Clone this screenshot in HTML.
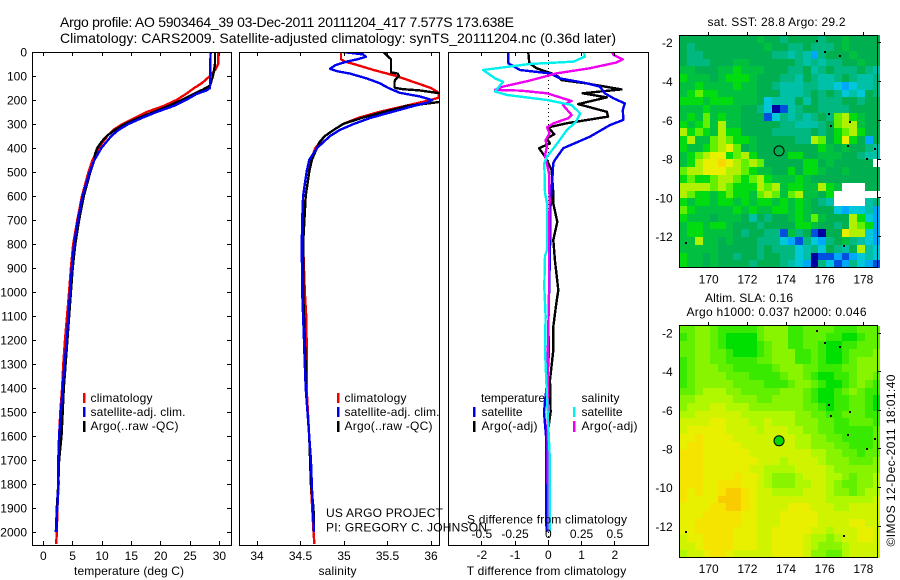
<!DOCTYPE html>
<html lang="en">
<head>
<meta charset="utf-8">
<title>Argo profile</title>
<style>
html,body{margin:0;padding:0;background:#fff;}
svg{display:block;font-family:"Liberation Sans",sans-serif;font-size:12px;fill:#000;}
text{fill:#000;}
.box{fill:none;stroke:#000;stroke-width:1;shape-rendering:crispEdges;}
.tick{stroke:#000;stroke-width:1;shape-rendering:crispEdges;}
.prof{fill:none;stroke-width:2.4;shape-rendering:crispEdges;stroke-linejoin:round;}
.title{font-size:14px;}
</style>
</head>
<body>
<svg id="chart" xmlns="http://www.w3.org/2000/svg" width="900" height="580" viewBox="0 0 900 580">
  <defs>
    <clipPath id="c1"><rect x="32" y="52" width="199.5" height="493.5"/></clipPath>
    <clipPath id="c2"><rect x="239" y="52" width="200.5" height="493.5"/></clipPath>
    <clipPath id="c3"><rect x="448" y="52" width="200.5" height="493.5"/></clipPath>
  </defs>
  <text class="title" x="60" y="27" textLength="454">Argo profile: AO 5903464_39 03-Dec-2011 20111204_417 7.577S 173.638E</text>
  <text class="title" x="60" y="43" textLength="556">Climatology: CARS2009. Satellite-adjusted climatology: synTS_20111204.nc (0.36d later)</text>

  <g id="heat1"></g>
  <g id="heat2"></g>
  <g id="marks"></g>
  <g id="axes"></g>

  <rect class="box" x="32.5" y="52.5" width="199" height="493"/>
  <rect class="box" x="239.5" y="52.5" width="200" height="493"/>
  <rect class="box" x="448.5" y="52.5" width="200" height="493"/>
  <rect class="box" x="679.5" y="35.5" width="198" height="232"/>
  <rect class="box" x="679.5" y="325.5" width="198" height="232"/>

  <text x="74" y="575" textLength="110">temperature (deg C)</text>
  <text x="318.5" y="575" textLength="38">salinity</text>
  <text x="466.7" y="575" textLength="159.5">T difference from climatology</text>
  <text x="467" y="523.5" textLength="160">S difference from climatology</text>

  <g>
    <rect x="83" y="393" width="2.5" height="10" fill="#f00000"/>
    <rect x="83" y="407" width="2.5" height="10" fill="#0000f0"/>
    <rect x="83" y="421" width="2.5" height="11" fill="#000"/>
    <text x="90.5" y="402" textLength="62">climatology</text>
    <text x="90.5" y="416" textLength="95">satellite-adj. clim.</text>
    <text x="90.5" y="430" textLength="88">Argo(..raw -QC)</text>
  </g>
  <g>
    <rect x="337" y="393" width="2.5" height="10" fill="#f00000"/>
    <rect x="337" y="407" width="2.5" height="10" fill="#0000f0"/>
    <rect x="337" y="421" width="2.5" height="11" fill="#000"/>
    <text x="344.5" y="402" textLength="62">climatology</text>
    <text x="344.5" y="416" textLength="95">satellite-adj. clim.</text>
    <text x="344.5" y="430" textLength="88">Argo(..raw -QC)</text>
  </g>
  <g>
    <text x="481" y="402" textLength="64">temperature</text>
    <rect x="473" y="407" width="2.5" height="10" fill="#0000f0"/>
    <rect x="473" y="421" width="2.5" height="11" fill="#000"/>
    <text x="481.5" y="416" textLength="41">satellite</text>
    <text x="481.5" y="430" textLength="56">Argo(-adj)</text>
    <text x="581.5" y="402" textLength="38">salinity</text>
    <rect x="573" y="407" width="2.5" height="10" fill="#00f0f0"/>
    <rect x="573" y="421" width="2.5" height="11" fill="#f000f0"/>
    <text x="581.5" y="416" textLength="41">satellite</text>
    <text x="581.5" y="430" textLength="56">Argo(-adj)</text>
  </g>

  <text x="326" y="517" textLength="117">US ARGO PROJECT</text>
  <text x="326" y="531.5" textLength="161">PI: GREGORY C. JOHNSON</text>

  <text x="707.5" y="26" textLength="138">sat. SST: 28.8 Argo: 29.2</text>
  <text x="705" y="302" textLength="88">Altim. SLA: 0.16</text>
  <text x="686.5" y="316" textLength="180">Argo h1000: 0.037 h2000: 0.046</text>
  <text x="0" y="0" transform="translate(895 546.5) rotate(-90)" textLength="172">©IMOS 12-Dec-2011 18:01:40</text>
</svg>
<script>
// ---- profile data (depth in dbar; temperature in deg C; salinity in psu) ----
const tempClimDepth = [0,50,70,100,130,150,175,200,225,250,275,300,325,350,400,450,500,600,700,800,900,1000,1200,1300,1400,1500,1600,1700,1800,1900,2000,2050];
const tempClim      = [29.8,29.8,29.4,28.4,27,25.7,24.3,22.7,20.5,17.6,15.6,13.5,11.9,10.9,9.4,8.4,7.7,6.6,5.8,5.1,4.7,4.4,3.7,3.4,3.2,2.9,2.7,2.55,2.6,2.4,2.3,2.2];
const tempSatDepth  = [0,100,150,160,175,200,225,250,275,300,325,350,400,450,500,600,700,800,900,1000,1200,1300,1400,1500,1600,1700,1800,1900,1950,2000];
const tempSat       = [28.5,28.4,28.4,27.8,26.1,24.3,22.2,19.3,16.8,14.5,12.8,11.6,9.9,8.7,7.9,6.7,5.9,5.25,4.85,4.55,4,3.6,3.3,3,2.7,2.55,2.55,2.4,2.2,2.15];
const tempArgoDepth = [0,50,75,100,140,155,175,200,225,250,275,300,325,350,375,400,425,450,500,600,700,800,900,1000,1200,1300,1400,1500,1600,1700,1800,1900,2000];
const tempArgo      = [29.25,29.25,29.1,28.9,28.4,27.3,25.6,23.6,21.3,18.8,16.2,13.9,12.2,10.8,9.9,9.2,8.8,8.7,8,6.9,6.1,5.45,5,4.7,4.1,3.8,3.5,3.3,3.1,2.7,2.55,2.3,2.25];

const salClimDepth = [0,30,40,50,75,100,125,150,170,190,200,225,250,275,300,325,350,400,450,500,600,700,800,1000,1100,1200,1300,1400,1500,1600,1700,1800,1900,2000,2050];
const salClim      = [34.965,34.965,35.01,35.11,35.34,35.6,35.8,36,36.09,36.09,36,35.7,35.4,35.16,34.99,34.88,34.78,34.67,34.62,34.6,34.56,34.54,34.53,34.55,34.565,34.57,34.57,34.57,34.585,34.6,34.62,34.62,34.635,34.65,34.66];
const salSatDepth  = [0,10,20,30,40,55,70,80,90,110,130,150,170,185,200,212,225,250,275,300,325,350,400,450,500,600,700,800,1000,1100,1200,1300,1400,1500,1600,1700,1800,1900,2000];
const salSat       = [34.99,35.22,35.25,35.16,35.03,34.9,34.84,34.92,35.07,35.26,35.41,35.51,35.64,35.87,36.01,35.95,35.8,35.55,35.3,35.11,34.95,34.84,34.69,34.6,34.57,34.53,34.52,34.515,34.52,34.53,34.54,34.55,34.56,34.58,34.6,34.62,34.63,34.64,34.655];
const salArgoDepth = [0,20,30,50,85,90,100,115,125,145,150,155,160,170,175,190,200,208,215,225,250,275,300,325,350,375,400,450,500,600,800,1000,1100,1200,1300,1400,1500,1600,1700,1800,1900,2000];
const salArgo      = [35.45,35.51,35.54,35.54,35.54,35.62,35.63,35.59,35.58,35.58,35.59,35.68,35.87,36.06,36.18,36.4,36.4,36.1,35.95,35.72,35.45,35.2,34.99,34.88,34.78,34.72,34.69,34.63,34.6,34.56,34.53,34.53,34.54,34.55,34.56,34.56,34.58,34.6,34.61,34.62,34.65,34.655];

const dTSatDepth  = [0,30,47,75,89,110,130,144,172,193,214,242,283,304,353,401,450,463,533,627,825,960,1150,1242,1367,1500,1600,1700,1800,1900,2000];
const dTSat       = [-1.2,-1.2,-1.2,-0.85,0.05,0.35,1.15,1.55,1.7,1.96,2.3,2.24,2.26,1.86,1.25,0.45,0.2,0.15,0.12,0.07,0.05,0.03,0,0.02,-0.03,-0.13,-0.07,-0.07,-0.07,-0.07,-0.05];
const dTArgoDepth = [0,47,68,89,103,117,131,156,172,189,217,249,269,297,314,343,360,381,401,436,492,589,631,708,783,867,992,1060,1144,1242,1367,1500,1600,1700,1800,1900,2000];
const dTArgo      = [-0.6,-0.57,-0.35,0.1,0.3,0.4,1.15,2.2,1.03,1.76,0.9,1.76,1.8,0.55,0,0.18,-0.05,0.05,-0.28,-0.1,0.1,0.15,0.15,0.27,0.15,0.2,0.3,0.23,0.15,0.15,0.05,0.07,-0.03,-0.05,-0.05,-0.05,-0.03];
const dSSatDepth  = [0,6,19,40,50,75,110,124,165,179,200,221,256,290,325,394,436,463,588,629,825,850,979,1100,1242,1367,1500,1700,1900,2000];
const dSSat       = [0.27,0.27,0.275,0.19,-0.14,-0.49,-0.4,-0.34,-0.4,-0.31,-0.01,0.175,0.24,0.21,0.14,0.05,-0.01,-0.03,-0.025,-0.01,-0.01,-0.025,-0.03,-0.02,-0.025,-0.015,-0.005,0.012,0.01,0.012];
const dSArgoDepth = [0,12,31,44,68,89,119,144,158,161,172,204,221,262,276,297,314,339,367,394,429,506,617,800,1000,1300,1600,2000];
const dSArgo      = [0.48,0.49,0.56,0.51,0.31,0.06,-0.14,-0.34,-0.4,-0.21,-0.01,0.175,0.11,0.175,0.15,0.04,-0.01,0.01,-0.02,-0.01,-0.025,0.005,0.01,0.005,0.005,-0.005,-0.005,0];

// ---- tick labels ----
const depthTicks = [0,100,200,300,400,500,600,700,800,900,1000,1100,1200,1300,1400,1500,1600,1700,1800,1900,2000];
const tempTicks  = [0,5,10,15,20,25,30];
const salTicks   = [34,34.5,35,35.5,36];
const dTTicks    = [-2,-1,0,1,2];
const dSTicks    = [-0.5,-0.25,0,0.25,0.5];
const lonTicks   = [170,172,174,176,178];
const latTicks   = [-2,-4,-6,-8,-10,-12];

// ---- maps: one character per 0.4 degree cell, north row first ----
const sstLegend = {g:'#00b050',m:'#00c040',n:'#00dc10',l:'#60f000',y:'#b0f000',Y:'#e8f000',O:'#f8d800',t:'#00b880',T:'#00c0a8',c:'#00c8d8',b:'#00a8f8',B:'#0050e0',D:'#0000a0',W:'#ffffff'};
const sstRows = [
"ggggggggggmggtggggtggmgggg",
"gtgggggggggmggttgtttgmgggg",
"gttgggggggggttTtTbtgggmggg",
"gtttgggmmggggggtTtTttggmgg",
"mmgggmmnmmmgggttgTtgtttgtT",
"nmmmgmnnnmgggttTgtTTtgtTTt",
"mmnmmmmnmmggtTTTttTTcbcTTt",
"mnlnnmmmmmgggTTTtgtgtcTcgt",
"nnnmnnnmmmgcTTTgTgtttggtgg",
"mmmnmmmmggtcDBTtggttttgggg",
"mnmlmnmmgggBctTtTtgtlynmgg",
"nmnlmymmgggggttTTTtglyymgg",
"ynlnmynnggggtttttgtgnlyngg",
"nymmlylnnmgggggttylgnYngbg",
"nmmnlyYlgmggggggggnmgmggtT",
"mnlyYYnlynggggnnggmmmggtTT",
"mnyYYOYylylgggggnngmgggggW",
"lyyYYYyylnmmggngnnmggmgggg",
"nlnnlyylnlynmmmnmggggggggg",
"yyyylylnnnylymnnmmynmWWWgg",
"ylnnmnlnnmlylmlymmgnWWWWWW",
"nmnnmnnmnmnnmnmnmgtTWWWWTt",
"lnmmmmmnmnmmnnmnmgggcbccTb",
"nmmmgmmmgTgtggmnmlmgggyncb",
"mnnmnnmgggtggggnnmggtgylnb",
"mnnmmmmgtggttBmtgBDggYyycb",
"mmymmgmgggtttcbBtcbtgmtTcb",
"mmmmmgggggtgtttcTtcgtTgyTc",
"nmmgmggtggtggttcTDBBbBbcTc",
"nmmgmggggtgggtTcbDtcBbtcbB"
];
const slaLegend = {'0':'#00e000','1':'#38ea00','2':'#60f000','3':'#88f400','4':'#b0f800','5':'#d0f400','6':'#e8f000','7':'#f4e400','8':'#f8cc00'};
const slaRows = [
"22332111112333112222111222",
"12332100002333112221100122",
"22332100001233112210011222",
"22332210001233311210012223",
"12332211112233311210012333",
"12333221111123332211122333",
"12333322211112332100112332",
"12333332222111233210012321",
"22344433222223332100123211",
"33444443332233332100112210",
"34445544433333332210112210",
"44555555444444433221122211",
"55556655544544433322112221",
"56666655554555443322111112",
"66766665555555544332211112",
"67766666555555544333221112",
"77766666655555555443322122",
"77766666665554555543332223",
"77766666655444455554333333",
"77766667665433345554432334",
"77766777665433344554322334",
"76766788765544445554332344",
"76666888765555555554444445",
"66667788765555666555445555",
"66677777665556666655555555",
"66777777665556666655556655",
"66777776665566666554555665",
"56677776665566665443455665",
"55677776665566665433345555",
"45567765555566665332245555"
];
const isletLon = [175.6,176,176.8,176.2,177.3,176.35,177.2,178.6,178.2,168.8,177];
const isletLat = [-1.9,-2.5,-2.7,-5.7,-6.1,-6.3,-7.3,-7.5,-8,-12.3,-12.5];
const floatLon = [173.638];
const floatLat = [-7.577];

// ---- axis functions ----
const NS = 'http://www.w3.org/2000/svg';
const yDepth = d => 52 + d * 0.24;
const xTemp  = v => 43.3 + v * 5.87;
const xSal   = v => 257 + (v - 34) * 87;
const xDT    = v => 548.3 + v * 33.25;
const xDS    = v => 548.3 + v * 133;
const xLon   = v => 708.7 + (v - 170) * 19.33;
const ySst   = v => 42.7 + (-2 - v) * 19.4;
const ySla   = v => 333 + (-2 - v) * 19.33;

const marks = document.getElementById('marks');
const axes = document.getElementById('axes');

function make(parent, tag, attrs, txt) {
  const el = document.createElementNS(NS, tag);
  for (const k in attrs) el.setAttribute(k, attrs[k]);
  if (txt !== undefined) el.textContent = txt;
  parent.appendChild(el);
  return el;
}
function drawProfile(depths, values, xf, color, clip, name) {
  const pts = depths.map((d, i) => xf(values[i]).toFixed(1) + ',' + yDepth(d).toFixed(1)).join(' ');
  const el = make(marks, 'polyline', {points: pts, class: 'prof', stroke: color, 'clip-path': 'url(#' + clip + ')'});
  
  
}
function tickLine(x1, y1, x2, y2) {
  const el = make(axes, 'line', {x1: x1, y1: y1, x2: x2, y2: y2, class: 'tick'});
  
  
}
function label(x, y, anchor, s) {
  const el = make(axes, 'text', {x: x, y: y, 'text-anchor': anchor}, s);
  
  
}
const px = v => Math.round(v) + 0.5;

// depth axis (temperature panel)
depthTicks.forEach(d => {
  const y = px(yDepth(d) - 0.5);
  tickLine(32, y, 36, y);
  tickLine(227, y, 231, y);
  label(27, yDepth(d) + 4.5, 'end', String(d));
});
// bottom/top axes
tempTicks.forEach(v => {
  const x = px(xTemp(v) - 0.5);
  tickLine(x, 52, x, 56); tickLine(x, 541, x, 545);
  label(xTemp(v), 560, 'middle', String(v));
});
salTicks.forEach(v => {
  const x = px(xSal(v) - 0.5);
  tickLine(x, 52, x, 56); tickLine(x, 541, x, 545);
  label(xSal(v), 560, 'middle', String(v));
});
dTTicks.forEach(v => {
  const x = px(xDT(v) - 0.5);
  tickLine(x, 52, x, 56); tickLine(x, 541, x, 545);
  label(xDT(v), 559, 'middle', String(v));
});
dSTicks.forEach(v => {
  label(xDS(v), 538, 'middle', String(v));
});
// zero line in the difference panel
const zero = make(marks, 'line', {x1: 548.5, y1: 52, x2: 548.5, y2: 545, stroke: '#000', 'stroke-dasharray': '1 3', 'shape-rendering': 'crispEdges'});



// profiles
drawProfile(tempClimDepth, tempClim, xTemp, '#f00000', 'c1', 'temperature-climatology-line');
drawProfile(tempArgoDepth, tempArgo, xTemp, '#000000', 'c1', 'temperature-argo-line');
drawProfile(tempSatDepth, tempSat, xTemp, '#0000f0', 'c1', 'temperature-satellite-line');
drawProfile(salClimDepth, salClim, xSal, '#f00000', 'c2', 'salinity-climatology-line');
drawProfile(salArgoDepth, salArgo, xSal, '#000000', 'c2', 'salinity-argo-line');
drawProfile(salSatDepth, salSat, xSal, '#0000f0', 'c2', 'salinity-satellite-line');
drawProfile(dTArgoDepth, dTArgo, xDT, '#000000', 'c3', 't-difference-argo-line');
drawProfile(dTSatDepth, dTSat, xDT, '#0000f0', 'c3', 't-difference-satellite-line');
drawProfile(dSArgoDepth, dSArgo, xDS, '#f000f0', 'c3', 's-difference-argo-line');
drawProfile(dSSatDepth, dSSat, xDS, '#00f0f0', 'c3', 's-difference-satellite-line');

// heatmaps
const LON0 = 168.48, LAT0 = -1.62, STEP = 0.4;
function drawHeat(id, rows, palette, yf, name) {
  const g = document.getElementById(id);
  rows.forEach((row, r) => {
    for (let c = 0; c < row.length; c++) {
      const x0 = Math.round(xLon(LON0 + c * STEP));
      const x1 = Math.round(xLon(LON0 + (c + 1) * STEP));
      const y0 = Math.round(yf(LAT0 - r * STEP));
      const y1 = Math.round(yf(LAT0 - (r + 1) * STEP));
      const cell = make(g, 'rect', {x: x0, y: y0, width: x1 - x0, height: y1 - y0, fill: palette[row[c]], 'shape-rendering': 'crispEdges'});
      
      
    }
  });
}
drawHeat('heat1', sstRows, sstLegend, ySst, 'sst-cell');
drawHeat('heat2', slaRows, slaLegend, ySla, 'sla-cell');

// map axes, islets and float position
[[ySst, 35, 267, 283.3, 'sst'], [ySla, 325, 557, 573, 'sla']].forEach(([yf, top, bottom, lonBase, key]) => {
  lonTicks.forEach(v => {
    const x = px(xLon(v) - 0.5);
    tickLine(x, top - 3, x, top);
    label(xLon(v), lonBase, 'middle', String(v));
  });
  latTicks.forEach(v => {
    const y = px(yf(v) - 0.5);
    tickLine(878, y, 881, y);
    label(672.7, yf(v) + 4.5, 'end', String(v));
  });
  isletLon.forEach((lon, i) => {
    const isle = make(marks, 'rect', {x: Math.round(xLon(lon)) - 1, y: Math.round(yf(isletLat[i])) - 1, width: 2, height: 2, fill: '#000', 'shape-rendering': 'crispEdges'});
    
    
  });
  const dot = make(marks, 'circle', {cx: xLon(floatLon[0]), cy: yf(floatLat[0]), r: 5, fill: key === 'sla' ? '#00d800' : 'none', stroke: '#000', 'stroke-width': 1});
  
  
});
</script>
</body>
</html>
